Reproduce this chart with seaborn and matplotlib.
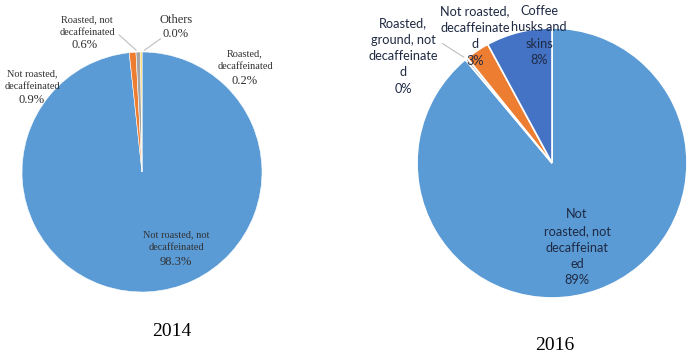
import matplotlib
matplotlib.use("Agg")
import matplotlib.pyplot as plt
import seaborn as sns
import numpy as np

# --- Datos ---
categorias_2014 = ["Not roasted, not\ndecaffeinated", "Not roasted,\ndecaffeinated",
                   "Roasted, not\ndecaffeinated", "Roasted,\ndecaffeinated", "Others"]
valores_2014 = [98.3, 0.9, 0.6, 0.2, 0.0]
porcentajes_2014 = ["98.3%", "0.9%", "0.6%", "0.2%", "0.0%"]

categorias_2016 = ["Not\nroasted, not\ndecaffeinat\ned", "Roasted,\nground, not\ndecaffeinate\nd",
                   "Not roasted,\ndecaffeinate\nd", "Coffee\nhusks and\nskins"]
valores_2016 = [88.9, 0.3, 2.9, 7.9]
porcentajes_2016 = ["89%", "0%", "3%", "8%"]

titulos = ["2014", "2016"]

# Paleta tipo Office
colores_2014 = sns.color_palette(["#5B9BD5", "#ED7D31", "#A5A5A5", "#FFC000", "#4472C4"])
colores_2016 = sns.color_palette(["#5B9BD5", "#A5A5A5", "#ED7D31", "#4472C4"])

ANCHO, ALTO = 700, 361


def crear_eje(fig, cx, cy, r):
    """Crea un eje cuadrado centrado en (cx, cy) en píxeles de imagen."""
    ax = fig.add_axes([(cx - r) / ANCHO, 1 - (cy + r) / ALTO, 2 * r / ANCHO, 2 * r / ALTO])
    ax.set_xlim(-1, 1)
    ax.set_ylim(-1, 1)
    ax.axis("off")
    return ax


def punto_borde(cuna, radio=1.0):
    theta = np.deg2rad((cuna.theta1 + cuna.theta2) / 2)
    return radio * np.cos(theta), radio * np.sin(theta)


def main():
    sns.set_theme(style="white")
    fig = plt.figure(figsize=(7, 3.61), dpi=100)

    # --- Gráfico 2014 ---
    cx, cy, r = 142, 172, 120
    ax = crear_eje(fig, cx, cy, r)
    cunas, _ = ax.pie(valores_2014, colors=colores_2014, startangle=90, counterclock=False,
                      radius=1, wedgeprops=dict(edgecolor="white", linewidth=0.4))
    ax.set_xlim(-1, 1)
    ax.set_ylim(-1, 1)

    def d(px, py):
        return (px - cx) / r, (cy - py) / r

    serif = "Liberation Serif"
    # posiciones (nombre, porcentaje) en píxeles
    pos_2014 = [((176, 241), (176, 262)), ((32, 80), (32, 100)), ((87, 26), (85, 45)),
                ((245, 60.5), (245, 81)), ((176, 20), (176, 34))]
    for i, (nombre, pct) in enumerate(zip(categorias_2014, porcentajes_2014)):
        (nx, ny), (qx, qy) = pos_2014[i]
        tam = 9 if nombre == "Others" else 7.4
        ax.text(*d(nx, ny), nombre, ha="center", va="center", fontsize=tam, family=serif,
                color="#303030", linespacing=1.5, clip_on=False)
        ax.text(*d(qx, qy), pct, ha="center", va="center", fontsize=9, family=serif,
                color="#303030", clip_on=False)

    # líneas guía
    for i, desde in [(2, (117, 33)), (4, (163, 37))]:
        ax.annotate("", xy=punto_borde(cunas[i]), xytext=d(*desde),
                    arrowprops=dict(arrowstyle="-", color="#BFBFBF", lw=0.8), annotation_clip=False)

    fig.text(172 / ANCHO, 1 - 331 / ALTO, titulos[0], ha="center", va="center",
             fontsize=14, family=serif, color="black")

    # --- Gráfico 2016 ---
    cx, cy, r = 552, 163, 135
    ax2 = crear_eje(fig, cx, cy, r)
    cunas2, _ = ax2.pie(valores_2016, colors=colores_2016, startangle=90, counterclock=False,
                        radius=1, wedgeprops=dict(edgecolor="white", linewidth=1.2))
    ax2.set_xlim(-1, 1)
    ax2.set_ylim(-1, 1)

    def d2(px, py):
        return (px - cx) / r, (cy - py) / r

    sans = "Lato"
    pos_2016 = [(577, 247.5), (403, 56), (475, 36), (539, 35.5)]
    for i, (nombre, pct) in enumerate(zip(categorias_2016, porcentajes_2016)):
        ax2.text(*d2(*pos_2016[i]), nombre + "\n" + pct, ha="center", va="center",
                 fontsize=9.2, family=sans, color="#1F2A44", linespacing=1.45, clip_on=False)

    ax2.annotate("", xy=punto_borde(cunas2[1]), xytext=d2(440, 42),
                 arrowprops=dict(arrowstyle="-", color="#BFBFBF", lw=0.8), annotation_clip=False)

    fig.text(555 / ANCHO, 1 - 345 / ALTO, titulos[1], ha="center", va="center",
             fontsize=14, family=serif, color="black")

    fig.savefig("out.png", dpi=100)


if __name__ == "__main__":
    main()
